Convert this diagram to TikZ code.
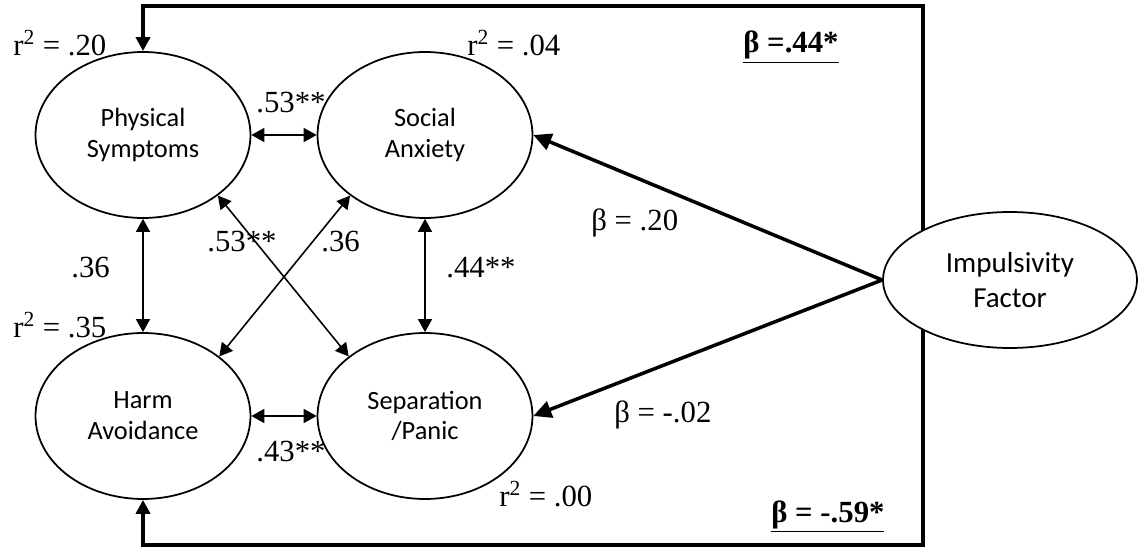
\documentclass[tikz,border=0pt]{standalone}
\usepackage{fontspec}
\setmainfont{Liberation Serif}
\newfontfamily\calibrifont{Carlito}
\usetikzlibrary{arrows.meta,shapes.geometric,backgrounds}

\begin{document}
\begin{tikzpicture}[x=0.02cm,y=-0.02cm,
  latent/.style={ellipse,draw,line width=1pt,fill=white,inner sep=0pt,
    minimum width=4.3cm,minimum height=3.32cm,align=center,
    font=\calibrifont\fontsize{15}{17.5}\selectfont},
  corr/.style={{Triangle[length=0.26cm,width=0.28cm]}-{Triangle[length=0.26cm,width=0.28cm]},line width=0.9pt},
  reg/.style={-{Triangle[length=0.36cm,width=0.34cm]},line width=2pt},
  loop/.style={-{Triangle[length=0.28cm,width=0.28cm]},line width=2pt},
  coef/.style={anchor=base west,inner sep=0pt,font=\fontsize{17.5}{20}\selectfont}]
\useasboundingbox (0,0) rectangle (1140,550);

% latent factors
\node[latent] (phys) at (143,135) {Physical\\Symptoms};
\node[latent] (soc) at (425,135) {Social\\Anxiety};
\node[latent] (harm) at (143,416) {Harm\\Avoidance};
\node[latent] (sep) at (425,416) {Separation\\/Panic};
\node[latent,minimum width=5.08cm,minimum height=2.72cm,
  font=\calibrifont\fontsize{16.5}{20}\selectfont] (imp) at (1010,280) {Impulsivity\\Factor};

% correlations
\draw[corr] (phys.east) -- (soc.west);
\draw[corr] (harm.east) -- (sep.west);
\draw[corr] (phys.south) -- (harm.north);
\draw[corr] (soc.south) -- (sep.north);
\draw[corr] (phys.-39) -- (sep.142);
\draw[corr] (soc.219) -- (harm.38);

% impulsivity paths
\draw[reg] (imp.west) -- (soc.east);
\draw[reg] (imp.west) -- (sep.east);
\coordinate (ne) at (923,6);
\coordinate (se) at (923,545);
\begin{scope}[on background layer]
\draw[loop] (imp.center -| ne) -- (ne) -| (phys.north);
\draw[loop] (imp.center -| se) -- (se) -| (harm.south);
\end{scope}

% r squared
\node[coef] (r1) at (13,56) {r\textsuperscript{2} = .20};
\node[coef] (r2) at (467,56) {r\textsuperscript{2} = .04};
\node[coef] (r3) at (13,338) {r\textsuperscript{2} = .35};
\node[coef] (r4) at (499,507) {r\textsuperscript{2} = .00};

% correlation values
\node[coef] (c1) at (256,113) {.53**};
\node[coef] (c2) at (71,278) {.36};
\node[coef] (c3) at (207,252) {.53**};
\node[coef] (c4) at (321,252) {.36};
\node[coef] (c5) at (446,278) {.44**};
\node[coef] (c6) at (256,462) {.43**};

% betas
\node[coef] (b1) at (591,231) {β = .20};
\node[coef] (b2) at (614,423) {β = -.02};
\node[coef] (b3) at (743,53) {\underline{\textbf{β =.44*}}};
\node[coef] (b4) at (771,522) {\underline{\textbf{β = -.59*}}};
\end{tikzpicture}
\end{document}
